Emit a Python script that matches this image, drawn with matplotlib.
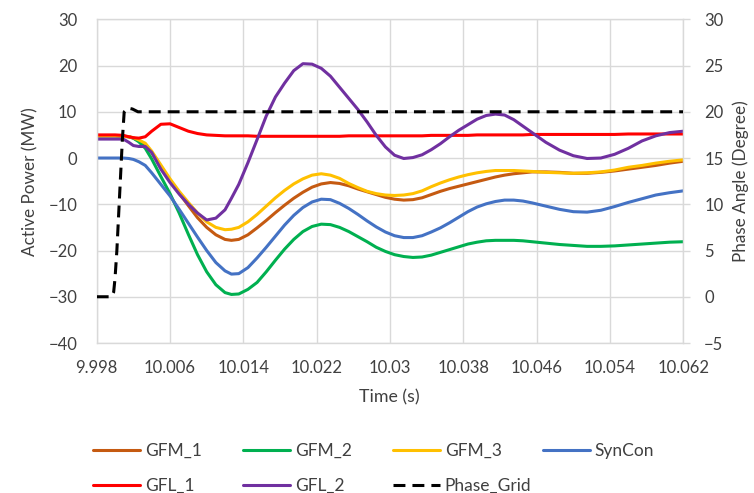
import matplotlib
matplotlib.use("Agg")
import matplotlib.pyplot as plt

plt.rcParams['font.family'] = ['Lato', 'DejaVu Sans']

# ---------------- data ----------------
x_ticks = [9.998, 10.006, 10.014, 10.022, 10.030, 10.038, 10.046, 10.054, 10.062]
x_tick_labels = ["9.998", "10.006", "10.014", "10.022", "10.03", "10.038", "10.046", "10.054", "10.062"]
y_left_ticks = [-40, -30, -20, -10, 0, 10, 20, 30]
y_right_ticks = [-5, 0, 5, 10, 15, 20, 25, 30]

# common sample times (s) for the active-power curves
time_s = [9.998, 9.999, 10.000, 10.0009, 10.0015, 10.002, 10.0026, 10.0033, 10.004, 10.005,
          10.006, 10.007, 10.008, 10.009, 10.010, 10.011, 10.012, 10.0127,
          10.0135, 10.0145, 10.0155, 10.0165, 10.0175, 10.0185, 10.0195, 10.0205, 10.0215, 10.0225,
          10.0235, 10.0245, 10.0255, 10.0265, 10.0275, 10.0285, 10.0295, 10.0305, 10.0315, 10.0325,
          10.0335, 10.0345, 10.0355, 10.0365, 10.0375, 10.0385, 10.0395, 10.0405, 10.0415, 10.0425,
          10.0435, 10.0445, 10.0455,
          10.047, 10.0485, 10.050, 10.0515, 10.053, 10.0545, 10.056, 10.0575, 10.059, 10.0605, 10.062]

gfm_1 = [4.8, 4.8, 4.8, 4.7, 4.6, 4.3, 3.7, 2.9, 1.2, -1.8,
         -4.8, -7.6, -10.3, -12.9, -15.0, -16.6, -17.6, -17.8,
         -17.6, -16.6, -15.1, -13.5, -11.8, -10.2, -8.7, -7.4, -6.3, -5.6,
         -5.3, -5.5, -6.0, -6.7, -7.3, -7.9, -8.5, -8.9, -9.1, -9.0,
         -8.6, -7.9, -7.2, -6.6, -6.1, -5.6, -5.1, -4.6, -4.1, -3.7,
         -3.4, -3.2, -3.0,
         -3.0, -3.1, -3.3, -3.3, -3.1, -2.8, -2.4, -2.0, -1.6, -1.1, -0.7]

gfm_2 = [4.8, 4.8, 4.8, 4.7, 4.6, 4.3, 3.5, 2.1, -0.2, -4.0,
         -7.7, -11.9, -16.5, -20.9, -24.6, -27.4, -29.1, -29.5,
         -29.4, -28.4, -26.9, -24.6, -22.1, -19.7, -17.6, -15.9, -14.8, -14.3,
         -14.4, -15.0, -15.9, -17.0, -18.1, -19.3, -20.2, -20.9, -21.3, -21.5,
         -21.4, -21.0, -20.4, -19.8, -19.2, -18.6, -18.2, -17.9, -17.8, -17.8,
         -17.8, -17.9, -18.1,
         -18.4, -18.7, -18.9, -19.1, -19.1, -19.0, -18.8, -18.6, -18.4, -18.2, -18.1]

gfm_3 = [4.8, 4.8, 4.8, 4.7, 4.6, 4.4, 3.9, 3.2, 1.5, -1.5,
         -4.5, -7.2, -9.6, -11.9, -13.8, -15.0, -15.5, -15.4,
         -15.0, -13.8, -12.2, -10.4, -8.6, -7.0, -5.6, -4.5, -3.7, -3.4,
         -3.7, -4.4, -5.5, -6.4, -7.2, -7.7, -8.0, -8.1, -8.0, -7.7,
         -7.1, -6.2, -5.4, -4.7, -4.1, -3.6, -3.2, -2.9, -2.7, -2.7,
         -2.7, -2.8, -2.9,
         -3.1, -3.2, -3.3, -3.2, -3.0, -2.6, -2.0, -1.6, -1.1, -0.7, -0.4]

syncon = [0.0, 0.0, 0.0, 0.0, -0.1, -0.3, -0.8, -1.6, -3.2, -5.7,
          -8.2, -11.1, -14.1, -17.1, -20.0, -22.6, -24.4, -25.1,
          -25.0, -23.7, -21.6, -19.3, -16.9, -14.5, -12.4, -10.7, -9.5, -8.9,
          -9.0, -9.8, -10.9, -12.2, -13.6, -14.9, -16.0, -16.8, -17.2, -17.2,
          -16.8, -16.0, -15.1, -14.0, -12.8, -11.6, -10.6, -9.9, -9.4, -9.1,
          -9.1, -9.3, -9.7,
          -10.4, -11.1, -11.6, -11.7, -11.3, -10.5, -9.6, -8.8, -8.0, -7.5, -7.1]

gfl_1 = [5.0, 5.0, 5.0, 4.9, 4.6, 4.4, 4.3, 4.6, 5.8, 7.3,
         7.4, 6.6, 5.8, 5.3, 5.0, 4.9, 4.8, 4.8,
         4.8, 4.8, 4.7, 4.7, 4.7, 4.7, 4.7, 4.7, 4.7, 4.7,
         4.7, 4.7, 4.8, 4.8, 4.8, 4.8, 4.8, 4.8, 4.8, 4.8,
         4.8, 4.9, 4.9, 4.9, 4.9, 4.9, 5.0, 5.0, 5.0, 5.0,
         5.0, 5.0, 5.1,
         5.1, 5.1, 5.1, 5.1, 5.1, 5.1, 5.2, 5.2, 5.2, 5.2, 5.2]

gfl_2 = [4.1, 4.1, 4.1, 4.1, 3.4, 2.7, 2.5, 2.5, 1.2, -2.4,
         -5.3, -7.8, -10.0, -11.9, -13.4, -13.0, -11.2, -8.7,
         -5.7, -1.0, 4.0, 9.1, 13.2, 16.2, 18.9, 20.4, 20.3, 19.4,
         17.7, 15.3, 12.9, 10.5, 7.8, 4.9, 2.4, 0.6, -0.1, 0.1,
         0.7, 1.8, 3.1, 4.6, 6.0, 7.2, 8.4, 9.2, 9.5, 9.3,
         8.3, 6.9, 5.5,
         3.4, 1.7, 0.5, -0.1, 0.0, 0.8, 2.1, 3.7, 4.8, 5.5, 5.8]

t_phase = [9.998, 9.9996, 9.99985, 10.0, 10.0002, 10.0005, 10.0008, 10.001, 10.0014, 10.0019,
           10.0025, 10.062]
phase_grid = [0.0, 0.0, 0.5, 2.0, 5.0, 11.0, 17.0, 20.0, 20.4, 20.3,
              20.0, 20.0]

series = [
    ("GFM_1", gfm_1, "#C55A11"),
    ("GFM_2", gfm_2, "#00B050"),
    ("GFM_3", gfm_3, "#FFC000"),
    ("SynCon", syncon, "#4472C4"),
    ("GFL_1", gfl_1, "#FF0000"),
    ("GFL_2", gfl_2, "#7030A0"),
]

# ---------------- figure ----------------
W, H = 754, 493
fig = plt.figure(figsize=(W / 100, H / 100), dpi=100)
ax = fig.add_axes([96.7 / W, 1 - 343 / H, (683.3 - 96.7) / W, (343 - 19.3) / H])

grid_c = "#d9d9d9"
text_c = "#404040"

lines = {}
for name, vals, c in series:
    ln, = ax.plot(time_s, vals, color=c, lw=2.2, label=name,
                  solid_capstyle='round', solid_joinstyle='round')
    lines[name] = ln

ax.set_xlim(9.998, 10.062)
ax.set_ylim(-40, 30)
ax.set_xticks(x_ticks)
ax.set_xticklabels(x_tick_labels)
ax.set_yticks(y_left_ticks)
ax.grid(True, color=grid_c, lw=1)
ax.set_axisbelow(True)
for s in ax.spines.values():
    s.set_color(grid_c)
    s.set_linewidth(1)
ax.tick_params(axis='both', length=0, labelsize=12, labelcolor=text_c)
ax.tick_params(axis='y', pad=14)
ax.tick_params(axis='x', pad=12)

ax2 = ax.twinx()
ph, = ax2.plot(t_phase, phase_grid, color="black", lw=2.2, linestyle=(0, (3.9, 2.3)),
               label="Phase_Grid", dash_joinstyle='round')
ax2.set_ylim(-5, 30)
ax2.set_yticks(y_right_ticks)
for s in ax2.spines.values():
    s.set_visible(False)
ax2.tick_params(axis='y', length=5, color=grid_c, width=1, labelsize=12, labelcolor=text_c, pad=10)

fig.text(30 / W, 1 - 182 / H, "Active Power (MW)", rotation=90, ha='center', va='center',
         fontsize=12.3, color=text_c)
fig.text(741 / W, 1 - 181 / H, "Phase Angle (Degree)", rotation=90, ha='center', va='center',
         fontsize=12.3, color=text_c)
fig.text(389 / W, 1 - 397 / H, "Time (s)", ha='center', va='center', fontsize=12.8, color=text_c)

# legend, one entry per slot
slots = [
    ("GFM_1", 93, 451), ("GFM_2", 243, 451), ("GFM_3", 393, 451), ("SynCon", 543, 451),
    ("GFL_1", 93, 486), ("GFL_2", 243, 486), ("Phase_Grid", 393, 486),
]
for name, xp, yp in slots:
    h = ph if name == "Phase_Grid" else lines[name]
    leg = fig.legend(handles=[h], labels=[name], loc='center left',
                     bbox_to_anchor=(xp / W, 1 - yp / H), frameon=False,
                     borderpad=0, borderaxespad=0, handlelength=2.7, handletextpad=0.28,
                     fontsize=12.5)
    for txt in leg.get_texts():
        txt.set_color(text_c)

fig.savefig("out.png", dpi=100)
